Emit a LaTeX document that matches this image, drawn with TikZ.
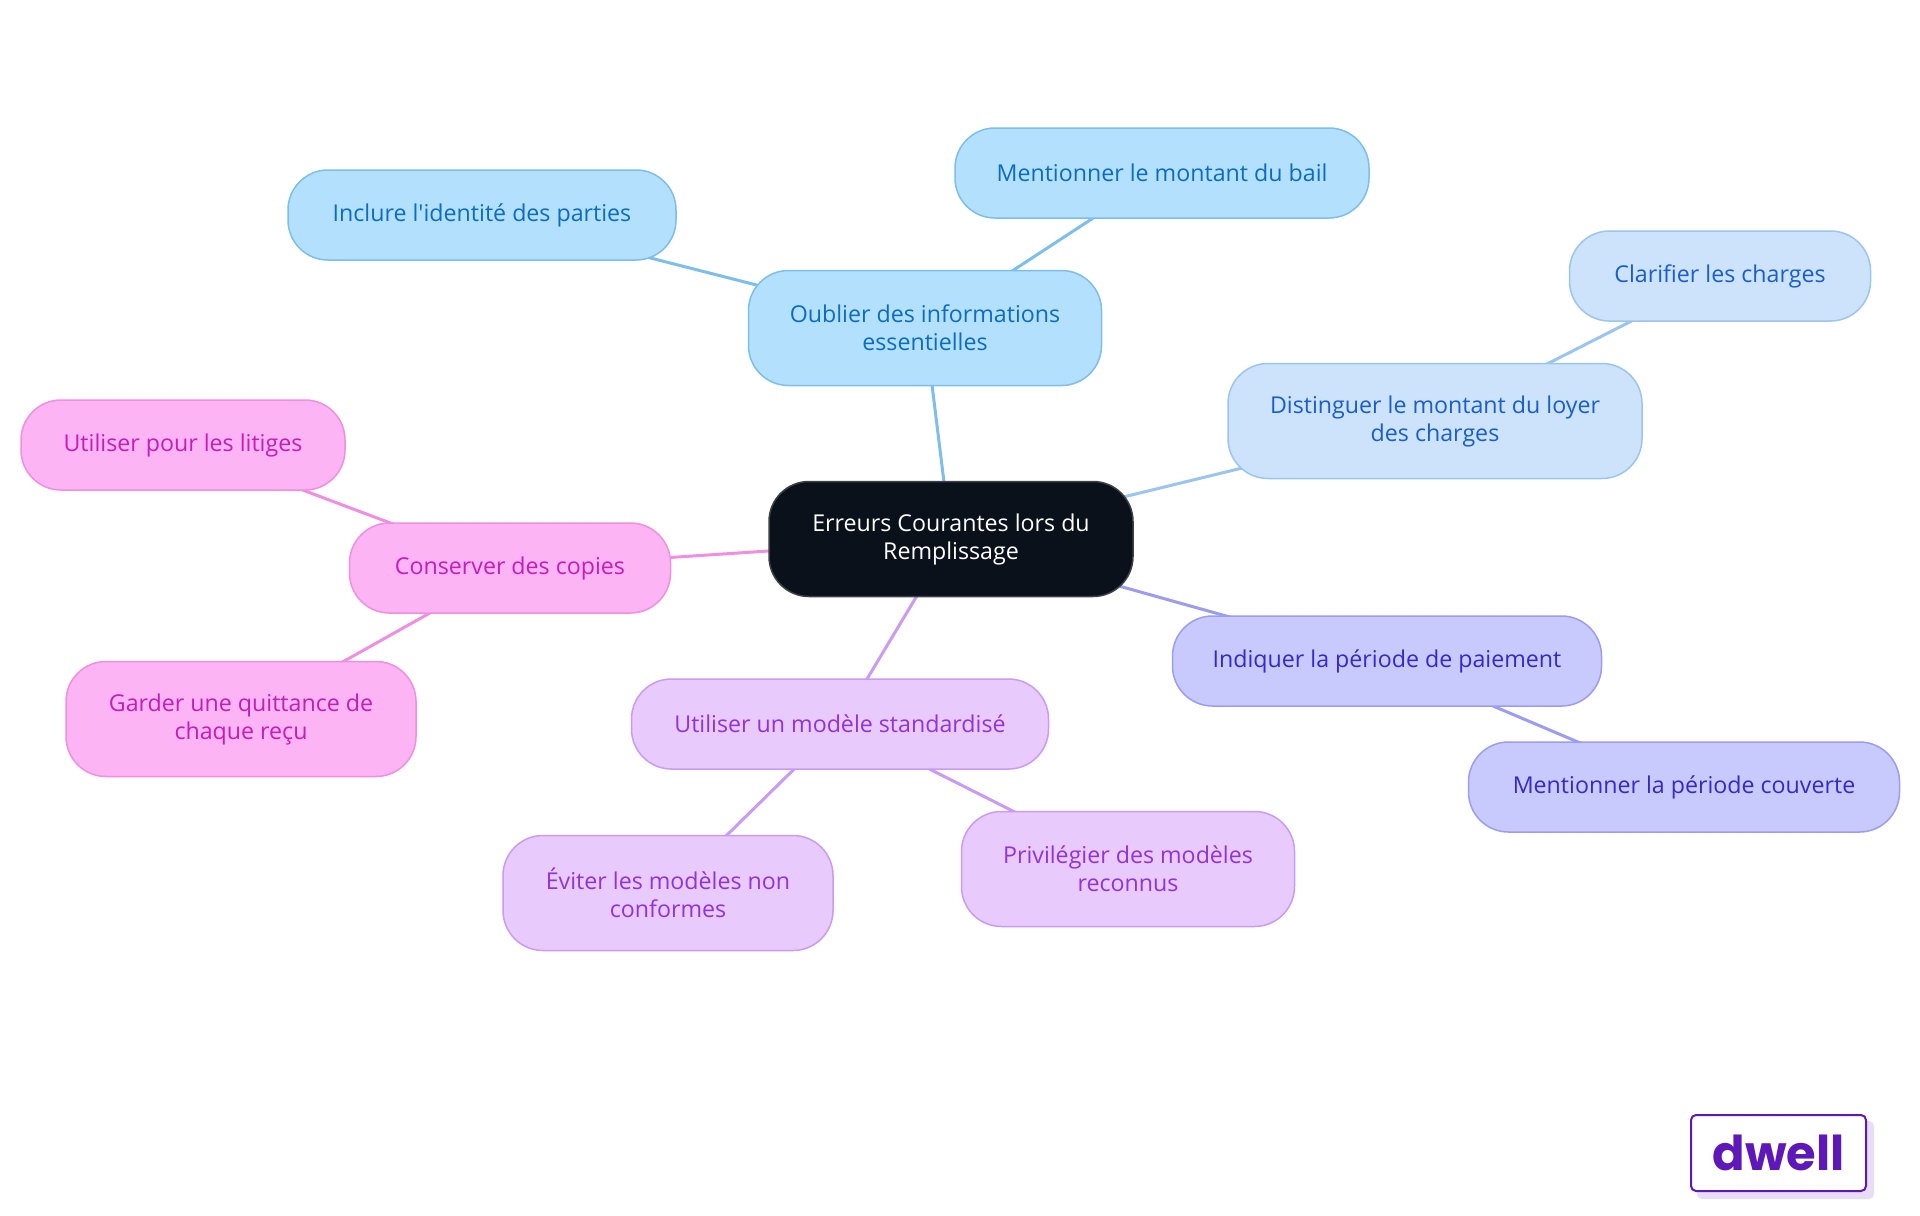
\documentclass[tikz,border=0pt]{standalone}
\usepackage{fontspec}
\setmainfont{Open Sans}
\newfontfamily\plainfont{Open Sans}
\newfontfamily\logofont{Poppins}
\usetikzlibrary{backgrounds}
\definecolor{rootfill}{RGB}{11, 17, 27}
\definecolor{rootline}{RGB}{60, 64, 72}
\definecolor{skyfill}{RGB}{179, 224, 253}
\definecolor{skyline}{RGB}{125, 190, 237}
\definecolor{skytext}{RGB}{12, 108, 196}
\definecolor{palefill}{RGB}{205, 227, 251}
\definecolor{paleline}{RGB}{156, 196, 240}
\definecolor{paletext}{RGB}{24, 94, 206}
\definecolor{indigofill}{RGB}{200, 202, 253}
\definecolor{indigoline}{RGB}{155, 156, 242}
\definecolor{indigotext}{RGB}{54, 40, 204}
\definecolor{lilacfill}{RGB}{232, 202, 253}
\definecolor{lilacline}{RGB}{202, 155, 242}
\definecolor{lilactext}{RGB}{146, 50, 222}
\definecolor{pinkfill}{RGB}{252, 180, 244}
\definecolor{pinkline}{RGB}{240, 143, 224}
\definecolor{pinktext}{RGB}{198, 28, 184}
\definecolor{logoink}{RGB}{94, 24, 186}
\definecolor{logoshade}{RGB}{232, 221, 247}

\begin{document}
\begin{tikzpicture}[x=0.5pt, y=-0.5pt,
  pill/.style={rounded corners=20pt, line width=0.75pt, align=center, inner sep=0pt,
    font=\fontsize{11.6}{14}\selectfont},
  short/.style={pill, minimum height=45pt},
  tall/.style={pill, minimum height=57.5pt},
  rootbox/.style={tall, draw=rootline, fill=rootfill, text=white},
  skybox/.style={draw=skyline, fill=skyfill, text=skytext},
  palebox/.style={draw=paleline, fill=palefill, text=paletext},
  indigobox/.style={draw=indigoline, fill=indigofill, text=indigotext},
  lilacbox/.style={draw=lilacline, fill=lilacfill, text=lilactext},
  pinkbox/.style={draw=pinkline, fill=pinkfill, text=pinktext},
  link/.style={line width=1.5pt}]
  \useasboundingbox (0,0) rectangle (1920,1215);

  % Central topic
  \node[rootbox, minimum width=182pt] (root) at (951,539) {Erreurs Courantes lors du\\Remplissage};

  % Branch: missing information
  \node[tall, skybox, minimum width=176.5pt] (oublier) at (925,328) {Oublier des informations\\essentielles};
  \node[short, skybox, minimum width=194pt] (inclure) at (482,215) {Inclure l{\plainfont'}identité des parties};
  \node[short, skybox, minimum width=207pt] (bail) at (1162,173) {Mentionner le montant du bail};

  % Branch: rent and charges
  \node[tall, palebox, minimum width=207pt] (distinguer) at (1435,421) {Distinguer le montant du loyer\\des charges};
  \node[short, palebox, minimum width=150.5pt] (clarifier) at (1720,276) {Clarifier les charges};

  % Branch: payment period
  \node[short, indigobox, minimum width=214.5pt] (indiquer) at (1387,661) {Indiquer la période de paiement};
  \node[short, indigobox, minimum width=215.5pt] (periode) at (1684,787) {Mentionner la période couverte};

  % Branch: standard template
  \node[short, lilacbox, minimum width=208.5pt] (modele) at (840,724) {Utiliser un modèle standardisé};
  \node[tall, lilacbox, minimum width=165pt] (eviter) at (668,893) {Éviter les modèles non\\conformes};
  \node[tall, lilacbox, minimum width=166.5pt] (privilegier) at (1128,869) {Privilégier des modèles\\reconnus};

  % Branch: keep copies
  \node[short, pinkbox, minimum width=160.5pt] (conserver) at (510,568) {Conserver des copies};
  \node[short, pinkbox, minimum width=162pt] (litiges) at (183,445) {Utiliser pour les litiges};
  \node[tall, pinkbox, minimum width=175pt] (garder) at (241,719) {Garder une quittance de\\chaque reçu};

  % Logo
  \node[draw=logoink, fill=white, line width=1pt, rounded corners=2.5pt, minimum width=87.5pt,
    minimum height=38pt, text=logoink, font=\logofont\bfseries\fontsize{24}{24}\selectfont] (logo) at (1778.5,1153) {dwell};

  % Connectors
  \begin{scope}[on background layer]
    \fill[white] (0,0) rectangle (1920,1215);
    \draw[link, skyline] (root.center) -- (oublier.center);
    \draw[link, skyline] (oublier.center) -- (inclure.center);
    \draw[link, skyline] (oublier.center) -- (bail.center);
    \draw[link, paleline] (root.center) -- (distinguer.center);
    \draw[link, paleline] (distinguer.center) -- (clarifier.center);
    \draw[link, indigoline] (root.center) -- (indiquer.center);
    \draw[link, indigoline] (indiquer.center) -- (periode.center);
    \draw[link, lilacline] (root.center) -- (modele.center);
    \draw[link, lilacline] (modele.center) -- (eviter.center);
    \draw[link, lilacline] (modele.center) -- (privilegier.center);
    \draw[link, pinkline] (root.center) -- (conserver.center);
    \draw[link, pinkline] (conserver.center) -- (litiges.center);
    \draw[link, pinkline] (conserver.center) -- (garder.center);
    \fill[logoshade, rounded corners=2.5pt] ([shift={(7,7)}]logo.south west) rectangle ([shift={(7,7)}]logo.north east);
  \end{scope}
\end{tikzpicture}
\end{document}
